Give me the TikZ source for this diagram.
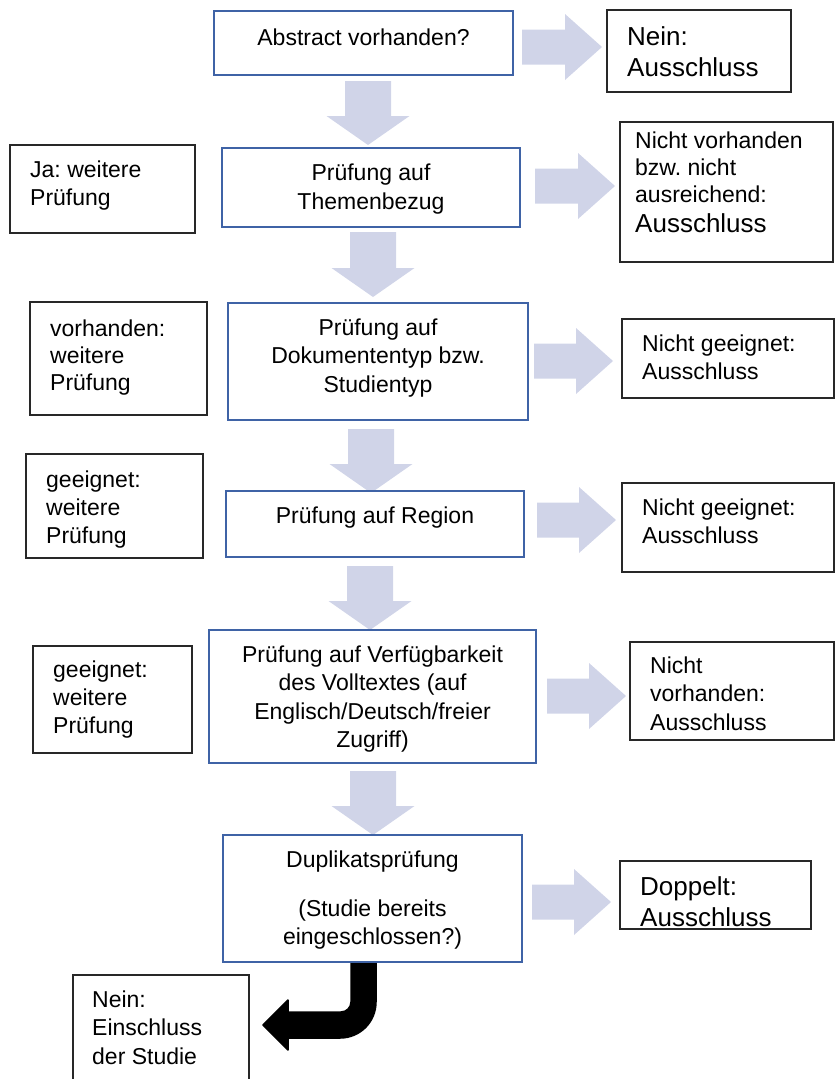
\documentclass[tikz,border=0pt]{standalone}
\usepackage{fontspec}
\setmainfont{Liberation Sans}
\usetikzlibrary{calc}
\definecolor{boxblue}{RGB}{63,99,166}
\definecolor{arrowgray}{RGB}{208,212,232}
\definecolor{boxblack}{RGB}{40,40,40}
\begin{document}
\frenchspacing
\begin{tikzpicture}[x=1pt,y=-1pt,
  bluebox/.style={draw=boxblue, fill=white, line width=2pt, rectangle, inner sep=0pt},
  blackbox/.style={draw=boxblack, fill=white, line width=1.3pt, rectangle, inner sep=0pt},
  ctext/.style={inner sep=0pt, anchor=north, align=center, font=\fontsize{23}{#1}\selectfont\frenchspacing},
  ctext/.default=28,
  ltext/.style={inner sep=0pt, anchor=north west, align=left, font=\fontsize{23}{#1}\selectfont\frenchspacing},
  ltext/.default=28,
  btext/.style={inner sep=0pt, anchor=north west, align=left, font=\fontsize{26}{31}\selectfont\frenchspacing},
  downblk/.style={to path={let \p1=(\tikztostart), \p2=(\tikztotarget) in
    (\x2-23pt,\y1) -- (\x2+23pt,\y1) -- (\x2+23pt,\y2+29pt) -- (\x2+41.5pt,\y2+29pt)
    -- (\x2,\y2) -- (\x2-41.5pt,\y2+29pt) -- (\x2-23pt,\y2+29pt) -- cycle}},
  rightblk/.style={to path={let \p1=(\tikztostart), \p2=(\tikztotarget) in
    (\x1,\y2+17.5pt) -- (\x2-37pt,\y2+17.5pt) -- (\x2-37pt,\y2+33pt) -- (\x2,\y2)
    -- (\x2-37pt,\y2-33pt) -- (\x2-37pt,\y2-17.5pt) -- (\x1,\y2-17.5pt) -- cycle}}
]
\useasboundingbox (0,0) rectangle (835,1079);
\clip (0,0) rectangle (835,1079);

% arrow end points
\coordinate (a1s) at (368,81);  \coordinate (a1e) at (368,145);
\coordinate (a2s) at (373,232); \coordinate (a2e) at (373,297);
\coordinate (a3s) at (371,429); \coordinate (a3e) at (371,493);
\coordinate (a4s) at (370,566); \coordinate (a4e) at (370,630);
\coordinate (a5s) at (373,771); \coordinate (a5e) at (373,835);
\coordinate (r1s) at (522,47);  \coordinate (r1e) at (602,47);
\coordinate (r2s) at (535,186); \coordinate (r2e) at (615,186);
\coordinate (r3s) at (534,361); \coordinate (r3e) at (613,361);
\coordinate (r4s) at (537,520); \coordinate (r4e) at (616,520);
\coordinate (r5s) at (547,696); \coordinate (r5e) at (626,696);
\coordinate (r6s) at (532,902); \coordinate (r6e) at (611,902);

% gray block arrows
\foreach \a in {a1,a2,a3,a4,a5}{\fill[arrowgray] (\a s) to[downblk] (\a e);}
\foreach \a in {r1,r2,r3,r4,r5,r6}{\fill[arrowgray] (\a s) to[rightblk] (\a e);}

% black bent arrow
\filldraw[black, line width=1.5pt, line join=round]
  (351,961) -- (376,961) -- (376,1002) .. controls (376,1022) and (360,1038) .. (340,1038)
  -- (288,1038) -- (288,1050) -- (263,1025) -- (288,1000) -- (288,1012) -- (341,1012)
  .. controls (346.5,1012) and (351,1007.5) .. (351,1002) -- cycle;

% boxes
\node[bluebox, minimum width=299pt, minimum height=64pt]  (b1)  at (363.5,43) {};
\node[blackbox, minimum width=184pt, minimum height=82pt] (b2)  at (699,51) {};
\node[bluebox, minimum width=298pt, minimum height=79pt]  (b3)  at (371,187.5) {};
\node[blackbox, minimum width=185pt, minimum height=88pt] (b4)  at (102.5,189) {};
\node[blackbox, minimum width=213pt, minimum height=140pt](b5)  at (726.5,192) {};
\node[bluebox, minimum width=300pt, minimum height=117pt] (b6)  at (378,361.5) {};
\node[blackbox, minimum width=177pt, minimum height=113pt](b7)  at (118.5,358.5) {};
\node[blackbox, minimum width=212pt, minimum height=79pt] (b8)  at (728,358.5) {};
\node[bluebox, minimum width=298pt, minimum height=66pt]  (b9)  at (375,524) {};
\node[blackbox, minimum width=177pt, minimum height=104pt](b10) at (114.5,506) {};
\node[blackbox, minimum width=212pt, minimum height=89pt] (b11) at (728,527.5) {};
\node[bluebox, minimum width=327pt, minimum height=133pt] (b12) at (372.5,696.5) {};
\node[blackbox, minimum width=159pt, minimum height=107pt](b13) at (112.5,699.5) {};
\node[blackbox, minimum width=204pt, minimum height=98pt] (b14) at (732,691) {};
\node[bluebox, minimum width=299pt, minimum height=127pt] (b15) at (372.5,898.5) {};
\node[blackbox, minimum width=191pt, minimum height=68pt] (b16) at (715.5,895) {};
\node[blackbox, minimum width=176pt, minimum height=110pt](b17) at (161,1030) {};

% texts
\node[ctext=27] (t1) at (363.5,26.1) {\strut Abstract vorhanden?};
\node[btext] (t2) at (627,23.3) {\strut Nein:\\Ausschluss};
\node[ctext=29] (t3) at (371,159.7) {\strut Prüfung auf\\Themenbezug};
\node[ltext=28] (t4) at (30,157.4) {\strut Ja: weitere\\Prüfung};
\node[ltext=27] (t5) at (635,129.1) {\strut Nicht vorhanden\\bzw. nicht\\ausreichend:\\[3pt]{\fontsize{26}{31}\selectfont Ausschluss}};
\node[ctext=28.5] (t6) at (378,315) {\strut Prüfung auf\\Dokumententyp bzw.\\Studientyp};
\node[ltext=27] (t7) at (50,317.1) {\strut vorhanden:\\weitere\\Prüfung};
\node[ltext=28] (t8) at (642,331.4) {\strut Nicht geeignet:\\Ausschluss};
\node[ctext=27] (t9) at (375,504.1) {\strut Prüfung auf Region};
\node[ltext=28] (t10) at (46,467.4) {\strut geeignet:\\weitere\\Prüfung};
\node[ltext=28] (t11) at (642,495.4) {\strut Nicht geeignet:\\Ausschluss};
\node[ctext=28.5] (t12) at (372.5,642) {\strut Prüfung auf Verfügbarkeit\\des Volltextes (auf\\Englisch/Deutsch/freier\\Zugriff)};
\node[ltext=28] (t13) at (53,657.4) {\strut geeignet:\\weitere\\Prüfung};
\node[ltext=28.5] (t14) at (650,653) {\strut Nicht\\vorhanden:\\Ausschluss};
\node[ctext=28.5] (t15) at (372.5,847) {\strut Duplikatsprüfung\\[20.5pt](Studie bereits\\eingeschlossen?)};
\node[btext] (t16) at (640,873.3) {\strut Doppelt:\\Ausschluss};
\node[ltext=28.5] (t17) at (92,987) {\strut Nein:\\Einschluss\\der Studie};
\end{tikzpicture}
\end{document}
